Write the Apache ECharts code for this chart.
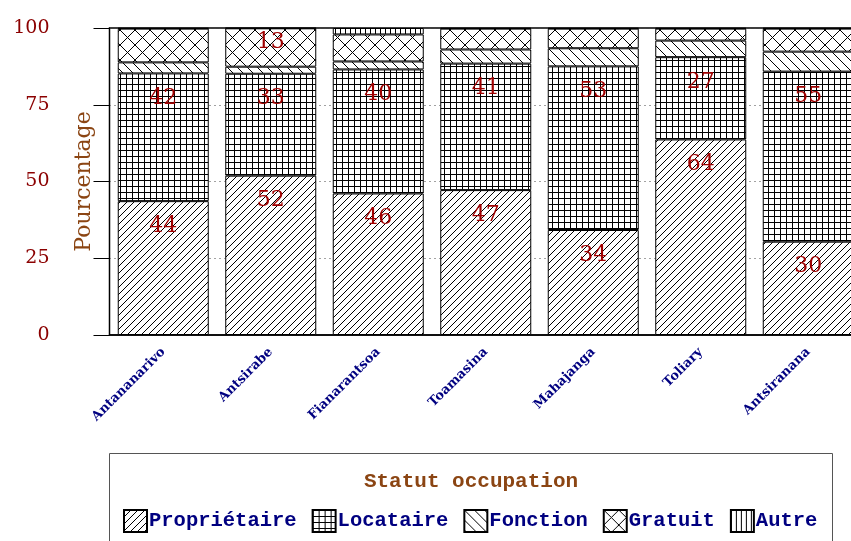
<!DOCTYPE html>
<html>
<head>
<meta charset="utf-8">
<script src="https://cdn.jsdelivr.net/npm/echarts@6/dist/echarts.min.js"></script>
<style>
  html, body { margin: 0; padding: 0; background: #fff; }
  #chart { width: 851px; height: 541px; }
</style>
</head>
<body>
<div id="chart"></div>
<script>
const villes = ['Antananarivo', 'Antsirabe', 'Fianarantsoa', 'Toamasina', 'Mahajanga', 'Toliary', 'Antsiranana'];
const statuts = ['Propriétaire', 'Locataire', 'Fonction', 'Gratuit', 'Autre'];

// pourcentages par ville
const proprietaire = [43.6, 51.9, 46.1, 47.2, 34.2, 63.7, 30.4];
const locataire    = [41.6, 33.2, 40.4, 41.2, 53.3, 26.8, 55.4];
const fonction     = [3.6, 2.3, 2.6, 4.6, 5.9, 5.4, 6.5];
const gratuit      = [11.0, 12.5, 8.8, 6.8, 6.4, 3.9, 7.5];
const autre        = [0.2, 0.1, 2.1, 0.2, 0.2, 0.2, 0.2];

const yTicks = [0, 25, 50, 75, 100];

// motifs de hachures (fond blanc, traits noirs)
function hatch(size, draw) {
  const c = document.createElement('canvas');
  c.width = c.height = size;
  const ctx = c.getContext('2d');
  ctx.fillStyle = '#fff';
  ctx.fillRect(0, 0, size, size);
  ctx.strokeStyle = '#000';
  ctx.lineWidth = 1;
  ctx.beginPath();
  draw(ctx, size);
  ctx.stroke();
  return { image: c, repeat: 'repeat' };
}

const motifs = [
  hatch(7, (ctx, s) => { // ////
    ctx.moveTo(0, s); ctx.lineTo(s, 0);
    ctx.moveTo(-1, 1); ctx.lineTo(1, -1);
    ctx.moveTo(s - 1, s + 1); ctx.lineTo(s + 1, s - 1);
  }),
  hatch(6, (ctx, s) => { // grille
    ctx.moveTo(0.5, 0); ctx.lineTo(0.5, s);
    ctx.moveTo(0, 0.5); ctx.lineTo(s, 0.5);
  }),
  hatch(10, (ctx, s) => { // \\\\
    ctx.moveTo(0, 0); ctx.lineTo(s, s);
    ctx.moveTo(-1, s - 1); ctx.lineTo(1, s + 1);
    ctx.moveTo(s - 1, -1); ctx.lineTo(s + 1, 1);
  }),
  hatch(15, (ctx, s) => { // croisillons
    ctx.moveTo(0, 0); ctx.lineTo(s, s);
    ctx.moveTo(0, s); ctx.lineTo(s, 0);
  }),
  hatch(5, (ctx, s) => { // ||||
    ctx.moveTo(0.5, 0); ctx.lineTo(0.5, s);
  })
];

const valeurs = [proprietaire, locataire, fonction, gratuit, autre];
const labelDist = [14, 14, 0, 3, 0];

const chart = echarts.init(document.getElementById('chart'));

const option = {
  animation: false,
  grid: {
    left: 109.5, top: 28, width: 752.5, height: 307,
    outerBoundsMode: 'none',
    containLabel: false,
    show: true, borderColor: '#000', borderWidth: 1.5
  },
  graphic: [
    {
      type: 'rect',
      shape: { x: 109.5, y: 453.5, width: 723, height: 100 },
      style: { fill: 'none', stroke: '#555', lineWidth: 1 }
    },
    {
      type: 'text',
      x: 471, y: 482,
      style: {
        text: 'Statut occupation',
        fill: '#8b4513',
        font: 'bold 21px "Liberation Mono", monospace',
        align: 'center', verticalAlign: 'middle'
      }
    }
  ],
  legend: {
    left: 118, top: 504,
    itemWidth: 23, itemHeight: 22,
    itemGap: 15,
    icon: 'rect',
    textStyle: {
      color: '#000080', fontSize: 20.5, fontWeight: 'bold',
      fontFamily: '"Liberation Mono", monospace',
      padding: [0, 0, 0, -3]
    },
    data: statuts
  },
  xAxis: {
    type: 'category',
    data: villes,
    axisLine: { lineStyle: { color: '#000', width: 1.5 } },
    axisTick: { alignWithLabel: true, length: 5, lineStyle: { color: '#000' } },
    axisLabel: {
      rotate: 45, margin: 15,
      color: '#000080', fontWeight: 'bold', fontSize: 13,
      fontFamily: '"DejaVu Serif", serif'
    }
  },
  yAxis: {
    type: 'value',
    min: yTicks[0], max: yTicks[yTicks.length - 1], interval: 25,
    name: 'Pourcentage',
    nameLocation: 'middle',
    nameGap: 14,
    nameMoveOverlap: false,
    nameTextStyle: { color: '#8b4513', fontSize: 22, fontFamily: '"DejaVu Serif", serif' },
    axisLine: { show: true, lineStyle: { color: '#000' } },
    axisTick: { show: true, length: 16, lineStyle: { color: '#000' } },
    axisLabel: {
      margin: 60, color: '#8b0000', fontSize: 19,
      fontFamily: '"DejaVu Serif", serif',
      padding: [0, 0, 12, 0]
    },
    splitLine: { show: true, lineStyle: { color: '#444', type: [1, 4] } }
  },
  series: statuts.map((nom, i) => ({
    name: nom,
    type: 'bar',
    stack: 'total',
    barWidth: 91,
    data: valeurs[i],
    itemStyle: { color: motifs[i], borderColor: '#000', borderWidth: 1 },
    label: {
      show: true,
      position: 'insideTop',
      distance: labelDist[i],
      color: '#a00000',
      fontSize: 22,
      fontFamily: '"DejaVu Serif", serif',
      formatter: p => (p.value >= 12 ? String(Math.round(p.value)) : '')
    }
  }))
};

chart.setOption(option);
</script>
</body>
</html>
